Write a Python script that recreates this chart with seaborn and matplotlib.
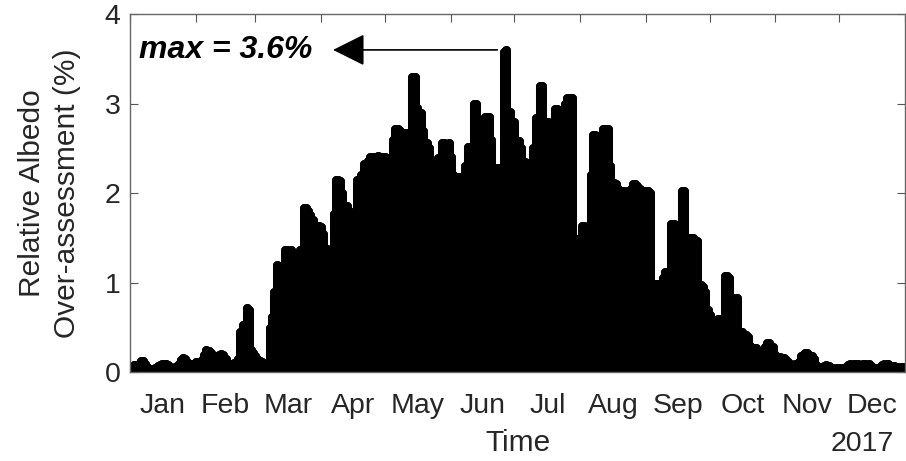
import pandas as pd
import seaborn as sns
import matplotlib.pyplot as plt
import matplotlib.dates as mdates

# daily relative albedo over-assessment (%) in 2017
jan = [0.05, 0.06, 0.08, 0.07, 0.10, 0.13, 0.13, 0.10, 0.06, 0.04, 0.03, 0.04, 0.05, 0.07, 0.08, 0.09,
       0.10, 0.10, 0.08, 0.06, 0.05, 0.06, 0.07, 0.10, 0.14, 0.16, 0.15, 0.12, 0.10, 0.09, 0.10]
feb = [0.12, 0.12, 0.11, 0.14, 0.20, 0.25, 0.24, 0.22, 0.18, 0.17, 0.18, 0.19, 0.21, 0.20, 0.15, 0.10,
       0.09, 0.10, 0.11, 0.12, 0.15, 0.45, 0.53, 0.50, 0.72, 0.70, 0.25, 0.22]
mar = [0.18, 0.15, 0.13, 0.12, 0.10, 0.09, 0.08, 0.50, 0.62, 0.90, 1.20, 1.18, 1.10, 1.15, 1.37, 1.37,
       1.36, 1.37, 1.30, 1.30, 0.55, 1.37, 1.37, 1.84, 1.84, 1.80, 1.76, 1.70, 1.63, 1.60, 1.63]
apr = [1.62, 1.55, 1.39, 1.38, 1.20, 1.30, 1.77, 2.15, 2.15, 2.14, 2.00, 1.86, 1.86, 1.80, 1.60, 1.34,
       0.94, 2.15, 2.15, 2.20, 2.33, 2.33, 2.36, 2.40, 2.38, 2.40, 2.40, 2.42, 2.40, 2.38]
may = [2.40, 2.30, 1.95, 2.31, 2.60, 2.72, 2.72, 2.70, 2.65, 2.67, 2.60, 2.67, 2.67, 3.30, 3.30, 2.95,
       2.90, 2.90, 2.70, 2.56, 2.56, 2.50, 1.01, 2.17, 2.10, 2.39, 2.30, 2.56, 2.56, 2.50, 2.56]
jun = [2.40, 2.20, 1.86, 2.00, 2.18, 2.18, 2.10, 2.30, 2.52, 2.52, 2.52, 3.00, 3.00, 2.10, 2.10, 2.10,
       2.85, 2.85, 2.85, 2.60, 2.28, 2.28, 2.20, 2.28, 2.28, 3.58, 3.60, 2.91, 2.91, 2.70]
jul = [2.80, 2.58, 2.58, 2.50, 2.35, 2.35, 1.84, 1.70, 1.67, 2.50, 2.84, 2.84, 3.20, 3.20, 2.79, 2.79,
       2.79, 2.75, 2.80, 2.94, 2.94, 2.90, 2.85, 2.90, 3.00, 3.06, 3.06, 3.06, 1.34, 1.34, 1.20]
aug = [1.50, 1.64, 1.64, 1.60, 1.64, 2.20, 2.65, 2.65, 2.60, 2.60, 2.65, 2.72, 2.72, 2.72, 2.30, 2.12,
       2.12, 2.10, 2.05, 2.03, 2.03, 2.00, 2.03, 2.00, 2.05, 2.10, 2.10, 2.08, 2.05, 2.00, 2.02]
sep = [2.02, 2.02, 2.00, 0.99, 0.99, 0.99, 0.95, 0.99, 1.05, 1.12, 1.12, 1.12, 1.66, 1.66, 1.60, 1.50,
       1.66, 2.02, 2.02, 1.50, 1.50, 1.50, 1.50, 1.48, 1.47, 0.98, 0.98, 0.95, 0.90, 0.70]
oct = [0.64, 0.60, 0.58, 0.58, 0.60, 0.60, 0.60, 1.08, 1.08, 1.05, 0.83, 0.83, 0.80, 0.83, 0.45, 0.45,
       0.42, 0.42, 0.40, 0.30, 0.27, 0.25, 0.27, 0.24, 0.22, 0.25, 0.28, 0.33, 0.33, 0.30, 0.28]
nov = [0.20, 0.16, 0.17, 0.15, 0.16, 0.14, 0.12, 0.10, 0.08, 0.10, 0.09, 0.12, 0.18, 0.20, 0.22, 0.22,
       0.20, 0.18, 0.15, 0.08, 0.06, 0.05, 0.06, 0.07, 0.08, 0.07, 0.05, 0.05, 0.04, 0.05]
dec = [0.05, 0.04, 0.05, 0.06, 0.08, 0.09, 0.08, 0.09, 0.10, 0.09, 0.08, 0.10, 0.09, 0.08, 0.09, 0.07,
       0.05, 0.05, 0.04, 0.06, 0.08, 0.10, 0.10, 0.09, 0.07, 0.06, 0.07, 0.06, 0.05, 0.06, 0.06]

month_names = ['Jan', 'Feb', 'Mar', 'Apr', 'May', 'Jun', 'Jul', 'Aug', 'Sep', 'Oct', 'Nov', 'Dec']
y_ticks = [0, 1, 2, 3, 4]
year_label = '2017'

values = jan + feb + mar + apr + may + jun + jul + aug + sep + oct + nov + dec
df = pd.DataFrame({'date': pd.date_range('2017-01-01', periods=len(values), freq='D'),
                   'overassess': values})

sns.set_style('ticks')
plt.rcParams['font.family'] = ['Liberation Sans', 'DejaVu Sans']

fig = plt.figure(figsize=(9.06, 4.61), dpi=100)
ax = fig.add_axes([0.1435, 0.192, 0.8554, 0.7775])

# thick stems with round heads
stems = ax.vlines(df['date'], 0, df['overassess'], color='black', linewidth=6.5, zorder=2)
stems.set_capstyle('round')
sns.scatterplot(data=df, x='date', y='overassess', color='black', s=42, linewidth=0,
                ax=ax, zorder=3, legend=False)

start = pd.Timestamp('2017-01-01')
end = pd.Timestamp('2018-01-01')
ax.set_xlim(start, end)
ax.set_ylim(0, 4)

# month starts as inward ticks, names centered in each month
month_starts = pd.date_range(start, end, freq='MS')
month_mids = month_starts[:-1] + (month_starts[1:] - month_starts[:-1]) / 2
ax.set_xticks(month_starts)
ax.set_xticklabels([])
ax.set_xticks(month_mids, minor=True)
ax.set_xticklabels(month_names, minor=True)
ax.set_yticks(y_ticks)

txt = '#262626'
ax.tick_params(axis='x', which='major', direction='in', length=6, top=True, bottom=True, color='#555555')
ax.tick_params(axis='x', which='minor', length=0, pad=15, labelsize=20.5, labelcolor=txt)
ax.tick_params(axis='y', direction='in', length=6, left=True, right=True, pad=7,
               labelsize=20.5, labelcolor=txt, color='#555555')
for sp in ax.spines.values():
    sp.set_color('#666666')
    sp.set_linewidth(1.0)
    sp.set_zorder(4)

ax.set_ylabel('Relative Albedo\nOver-assessment (%)', fontsize=21.5, color=txt, linespacing=1.3,
              labelpad=17)
ax.set_xlabel('Time', fontsize=21.5, color=txt, labelpad=7)
ax.text(0.9445, -0.2, year_label, transform=ax.transAxes, ha='center', va='center',
        fontsize=20.5, color=txt)

# annotate the maximum
peak = df.loc[df['overassess'].idxmax()]
ax.text(0.012, peak['overassess'], f"max = {peak['overassess']:.1f}%", transform=ax.get_yaxis_transform(),
        ha='left', va='center', fontsize=23, fontweight='bold', fontstyle='italic', color='black')
ax.annotate('', xy=(0.262, peak['overassess']), xycoords=ax.get_yaxis_transform(),
            xytext=(mdates.date2num(peak['date'] - pd.Timedelta(days=4)), peak['overassess']),
            textcoords='data',
            arrowprops=dict(arrowstyle='-|>', mutation_scale=50, lw=1.2, color='black',
                            shrinkA=0, shrinkB=0))

fig.savefig('out.png', dpi=100)
